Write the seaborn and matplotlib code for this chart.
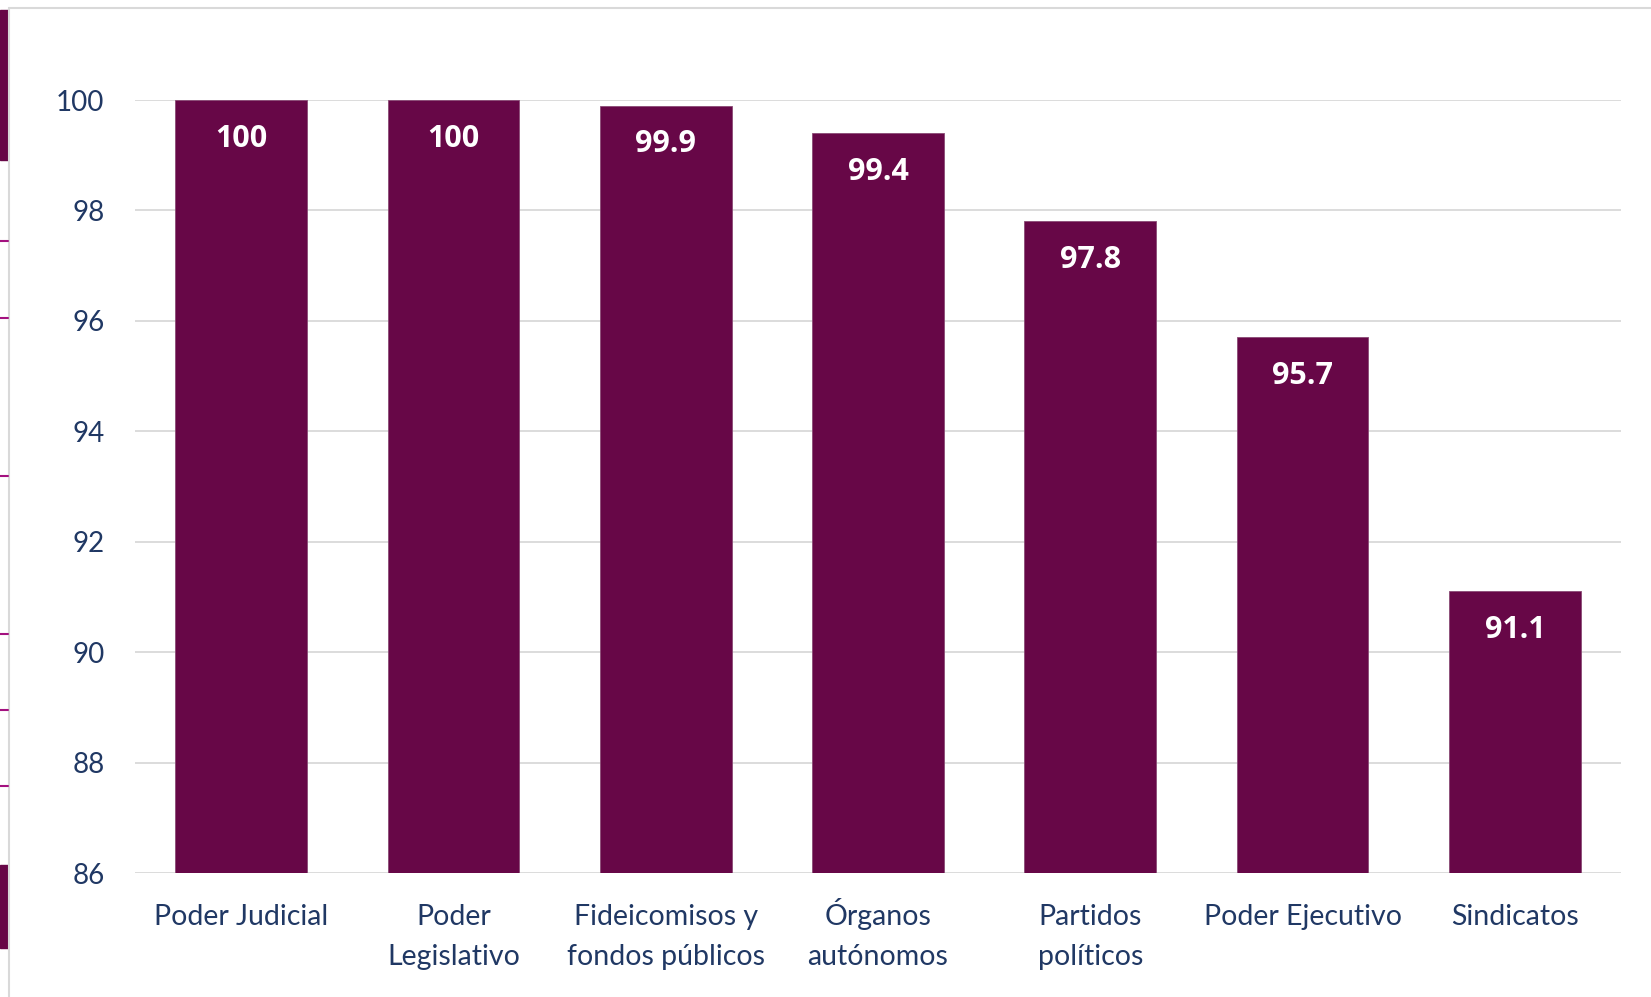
import pandas as pd
import seaborn as sns
import matplotlib.pyplot as plt
from matplotlib.lines import Line2D
from matplotlib.patches import Rectangle

# data
categories = ["Poder Judicial", "Poder\nLegislativo", "Fideicomisos y\nfondos públicos",
              "Órganos\nautónomos", "Partidos\npolíticos", "Poder Ejecutivo", "Sindicatos"]
values = [100, 100, 99.9, 99.4, 97.8, 95.7, 91.1]
y_ticks = [86, 88, 90, 92, 94, 96, 98, 100]

df = pd.DataFrame({"categoria": categories, "valor": values})

bar_color = "#670747"
text_color = "#203864"

sns.set_style("white")
plt.rcParams["font.family"] = ["Lato", "DejaVu Sans"]

fig = plt.figure(figsize=(16.51, 9.97), dpi=100)
ax = fig.add_axes([135 / 1651, 1 - 873 / 997, (1621 - 135) / 1651, (873 - 100) / 997])

sns.barplot(data=df, x="categoria", y="valor", color=bar_color, width=0.62,
            saturation=1, edgecolor="#8a4a75", linewidth=0.6, ax=ax, zorder=3)

ax.set_ylim(86, 100)
ax.set_yticks(y_ticks)
ax.set_xlim(-0.5, len(categories) - 0.5)
ax.grid(axis="y", color="#d9d9d9", linewidth=1.3, zorder=0)
ax.set_axisbelow(True)
for s in ax.spines.values():
    s.set_visible(False)

ax.set_xlabel("")
ax.set_ylabel("")
ax.tick_params(axis="y", length=0, pad=22, labelsize=20, labelcolor=text_color)
ax.tick_params(axis="x", length=0)
ax.set_xticklabels([])

# category labels, one line at a time so first lines share a baseline
for i, cat in enumerate(categories):
    for k, line in enumerate(cat.split("\n")):
        ax.annotate(line, xy=(i, 0), xycoords=("data", "axes fraction"),
                    xytext=(0, -37.5 - 28.8 * k), textcoords="offset points",
                    ha="center", va="baseline", color=text_color, fontsize=20.5)

# value labels inside the bars
for i, v in enumerate(values):
    ax.annotate(f"{v:g}", xy=(i, v), xytext=(0, -25.5), textcoords="offset points",
                ha="center", va="center_baseline", color="white", fontsize=22,
                fontweight="bold", family=["Open Sans", "DejaVu Sans"])

# slide frame remnants
fig.add_artist(Line2D([9 / 1651, 1], [1 - 8 / 997] * 2, color="#d9d9d9", lw=1.5))
fig.add_artist(Line2D([9 / 1651] * 2, [0, 1 - 8 / 997], color="#d9d9d9", lw=1.5))
fig.add_artist(Rectangle((0, 1 - 160 / 997), 8 / 1651, 150 / 997, color=bar_color))
fig.add_artist(Rectangle((0, 1 - 948 / 997), 8 / 1651, 83 / 997, color=bar_color))
for yy in [241, 318, 476, 634, 710, 786]:
    fig.add_artist(Line2D([0, 8 / 1651], [1 - yy / 997] * 2, color="#a3117f", lw=1.5))

fig.savefig("out.png", dpi=100)
